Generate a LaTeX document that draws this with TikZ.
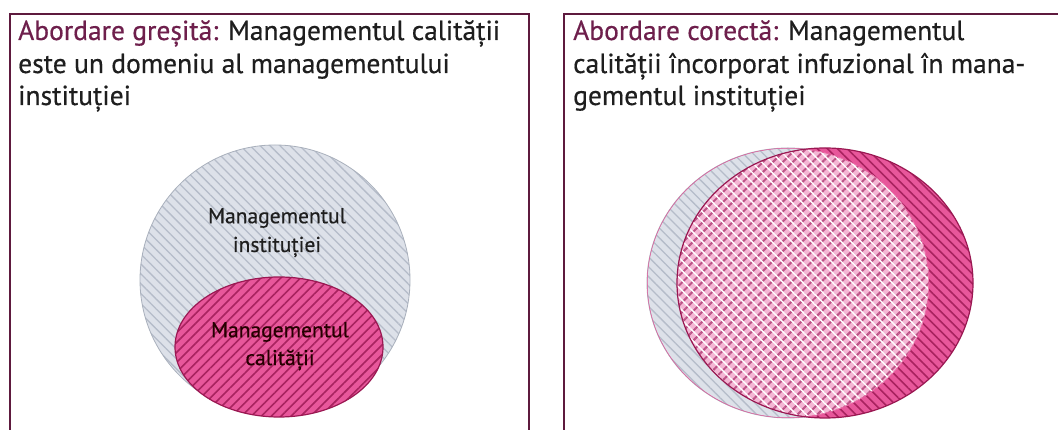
\documentclass[tikz,border=0pt]{standalone}
\usepackage{fontspec}
\setmainfont{PT Sans}
\newfontfamily\medfont{PT Sans}[FakeBold=0.5]
\usetikzlibrary{patterns.meta}
\definecolor{frame}{HTML}{5E1A3E}
\definecolor{headc}{HTML}{6E1F4C}
\definecolor{txt}{HTML}{1E1E1E}
\definecolor{greyfill}{HTML}{DDE1E9}
\definecolor{greyline}{HTML}{B5BCC9}
\definecolor{greyedge}{HTML}{A9B0BC}
\definecolor{pinkfill}{HTML}{E8579B}
\definecolor{pinkline}{HTML}{A8235F}
\definecolor{pinkedge}{HTML}{9A1852}
\definecolor{lightpink}{HTML}{F4B6D4}
\definecolor{dotpink}{HTML}{BC5286}
\begin{document}
\begin{tikzpicture}[x=1pt,y=1pt,
  boxline/.style={draw=frame,line width=2pt},
  head/.style={anchor=base west,inner sep=0pt,font=\medfont\fontsize{27.5}{30}\selectfont,text=txt},
  inlabel/.style={anchor=center,inner sep=0pt,font=\medfont\fontsize{21.5}{24}\selectfont},
  greyhatch/.style={pattern={Lines[angle=-45,distance=7pt,line width=1.3pt]},pattern color=greyline},
  pinkhatch/.style={pattern={Lines[angle=45,distance=7pt,line width=1.6pt]},pattern color=pinkline},
  pinkhatchb/.style={pattern={Lines[angle=-45,distance=7pt,line width=1.6pt]},pattern color=pinkline},
  whitehatch/.style={pattern={Lines[angle=-45,distance=7pt,line width=1.4pt]},pattern color=white},
  dothatch/.style={pattern={Lines[angle=45,distance=7pt,line width=2pt]},pattern color=dotpink}
]
\useasboundingbox (0,0) rectangle (1058,430);
\fill[white] (0,0) rectangle (1058,430);

% frames
\draw[boxline] (10,-5) -- (10,416) -- (529,416) -- (529,-5);
\draw[boxline] (564,-5) -- (564,416) -- (1065,416);

% left headings
\node[head] (l1) at (18,390) {\textcolor{headc}{Abordare greșită:} Managementul calității};
\node[head] (l2) at (18,357) {este un domeniu al managementului};
\node[head] (l3) at (18,325) {instituției};

% right headings
\node[head] (r1) at (573,390) {\textcolor{headc}{Abordare corectă:} Managementul};
\node[head] (r2) at (573,357) {calității încorporat infuzional în mana-};
\node[head] (r3) at (573,325) {gementul instituției};

% left diagram
\fill[greyfill] (275,150) circle[radius=135];
\fill[greyhatch] (275,150) circle[radius=135];
\draw[greyedge,line width=0.8pt] (275,150) circle[radius=135];
\fill[pinkfill] (279,83) ellipse[x radius=104,y radius=70];
\fill[pinkhatch] (279,83) ellipse[x radius=104,y radius=70];
\draw[pinkedge,line width=1.2pt] (279,83) ellipse[x radius=104,y radius=70];
\node[inlabel,text=txt] (mi1) at (277,212) {Managementul};
\node[inlabel,text=txt] (mi2) at (277,183) {instituției};
\node[inlabel,text=black!85!red] (mc1) at (280,98) {Managementul};
\node[inlabel,text=black!85!red] (mc2) at (280,70) {calității};

% right diagram
\fill[greyfill] (788,147) ellipse[x radius=141,y radius=135];
\fill[greyhatch] (788,147) ellipse[x radius=141,y radius=135];
\draw[greyedge,line width=0.8pt] (788,147) ellipse[x radius=141,y radius=135];
\fill[pinkfill] (825,147) ellipse[x radius=148,y radius=135];
\fill[pinkhatchb] (825,147) ellipse[x radius=148,y radius=135];
\begin{scope}
  \clip (788,147) ellipse[x radius=141,y radius=135];
  \fill[lightpink] (825,147) ellipse[x radius=148,y radius=135];
  \fill[dothatch] (825,147) ellipse[x radius=148,y radius=135];
  \fill[whitehatch] (825,147) ellipse[x radius=148,y radius=135];
  \draw[pinkfill,line width=1pt] (788,147) ellipse[x radius=141,y radius=135];
\end{scope}
\draw[pinkedge,line width=1.2pt] (825,147) ellipse[x radius=148,y radius=135];
\end{tikzpicture}
\end{document}
